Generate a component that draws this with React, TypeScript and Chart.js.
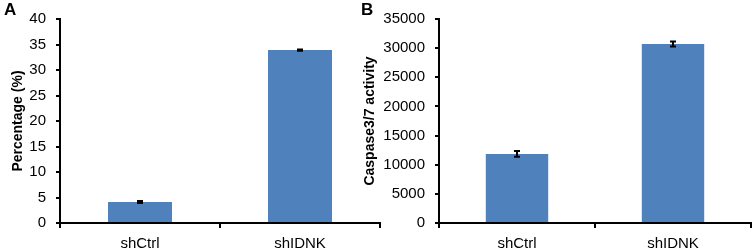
import React, { useEffect, useRef } from "react";
import { Chart, registerables } from "chart.js";

Chart.register(...registerables);

const categories = ["shCtrl", "shIDNK"];
const percentValues = [4.1, 33.9];
const percentErrors = [0.2, 0.12];
const percentTicks = [0, 5, 10, 15, 20, 25, 30, 35, 40];
const caspaseValues = [11850, 30700];
const caspaseErrors = [500, 420];
const caspaseTicks = [0, 5000, 10000, 15000, 20000, 25000, 30000, 35000];

const FONT = "'Liberation Sans', Arial, sans-serif";

const errorBarPlugin = {
  id: "errorBars",
  afterDatasetsDraw(chart: any) {
    const errs: number[] = chart.options.plugins.errorBars?.errors || [];
    const meta = chart.getDatasetMeta(0);
    const ys = chart.scales.y;
    const ctx = chart.ctx;
    const vals = chart.data.datasets[0].data as number[];
    ctx.save();
    ctx.strokeStyle = "#000";
    ctx.lineWidth = 2;
    meta.data.forEach((bar: any, i: number) => {
      const x = bar.x;
      const top = ys.getPixelForValue(vals[i] + errs[i]);
      const bot = ys.getPixelForValue(vals[i] - errs[i]);
      ctx.beginPath();
      ctx.moveTo(x, top);
      ctx.lineTo(x, bot);
      ctx.moveTo(x - 3, top);
      ctx.lineTo(x + 3, top);
      ctx.moveTo(x - 3, bot);
      ctx.lineTo(x + 3, bot);
      ctx.stroke();
    });
    ctx.restore();
  },
};

function BarPanel(props: {
  values: number[];
  errors: number[];
  ticks: number[];
  title: string;
  yWidth: number;
  titleOffset: number;
  padTop: number;
  padRight: number;
  width: number;
}) {
  const ref = useRef<HTMLCanvasElement>(null);
  useEffect(() => {
    const ticks = props.ticks;
    const chart = new Chart(ref.current!, {
      type: "bar",
      data: {
        labels: categories,
        datasets: [
          {
            data: props.values,
            backgroundColor: "#4F81BD",
            barPercentage: 0.4,
            categoryPercentage: 1,
          },
        ],
      },
      plugins: [errorBarPlugin],
      options: {
        animation: false,
        responsive: false,
        devicePixelRatio: 1,
        layout: { padding: { top: props.padTop, right: props.padRight, left: 0, bottom: 0 } },
        plugins: {
          legend: { display: false },
          tooltip: { enabled: false },
          errorBars: { errors: props.errors },
        } as any,
        scales: {
          x: {
            grid: {
              display: true,
              drawOnChartArea: false,
              drawTicks: true,
              tickLength: 5,
              color: "#000",
              lineWidth: 2,
              offset: true,
            },
            border: { color: "#000", width: 2 },
            ticks: { color: "#000", font: { family: FONT, size: 15 }, padding: 7 },
            afterFit: (s: any) => {
              s.height = 25;
            },
          },
          y: {
            min: ticks[0],
            max: ticks[ticks.length - 1],
            afterBuildTicks: (s: any) => {
              s.ticks = ticks.map((v) => ({ value: v }));
            },
            grid: {
              display: true,
              drawOnChartArea: false,
              drawTicks: true,
              tickLength: 4,
              color: "#000",
              lineWidth: 2,
            },
            border: { color: "#000", width: 2 },
            ticks: {
              color: "#000",
              font: { family: FONT, size: 15 },
              padding: 10,
              callback: (v: any) => String(v),
            },
            title: {
              display: true,
              text: props.title,
              color: "#000",
              font: { family: FONT, size: 14, weight: "bold" },
              padding: { top: props.titleOffset, bottom: 0 },
            },
            afterFit: (s: any) => {
              s.width = props.yWidth;
            },
          },
        },
      },
    });
    return () => chart.destroy();
  }, []);
  return <canvas ref={ref} width={props.width} height={248} style={{ display: "block" }} />;
}

export default function App() {
  return (
    <div
      style={{
        position: "fixed",
        left: 0,
        top: 0,
        width: 752,
        height: 248,
        background: "#fff",
        overflow: "hidden",
      }}
    >
      <div style={{ position: "absolute", left: 0, top: 0 }}>
        <BarPanel
          values={percentValues}
          errors={percentErrors}
          ticks={percentTicks}
          title="Percentage (%)"
          yWidth={60}
          titleOffset={10}
          padTop={10}
          padRight={4}
          width={384}
        />
      </div>
      <div style={{ position: "absolute", left: 352, top: 0 }}>
        <BarPanel
          values={caspaseValues}
          errors={caspaseErrors}
          ticks={caspaseTicks}
          title="Caspase3/7 activity"
          yWidth={87}
          titleOffset={10}
          padTop={12}
          padRight={1}
          width={400}
        />
      </div>
      <div
        style={{
          position: "absolute",
          left: 4,
          top: 1,
          fontFamily: FONT,
          fontWeight: "bold",
          fontSize: 17,
          lineHeight: "18px",
        }}
      >
        A
      </div>
      <div
        style={{
          position: "absolute",
          left: 361,
          top: 1,
          fontFamily: FONT,
          fontWeight: "bold",
          fontSize: 17,
          lineHeight: "18px",
        }}
      >
        B
      </div>
    </div>
  );
}
